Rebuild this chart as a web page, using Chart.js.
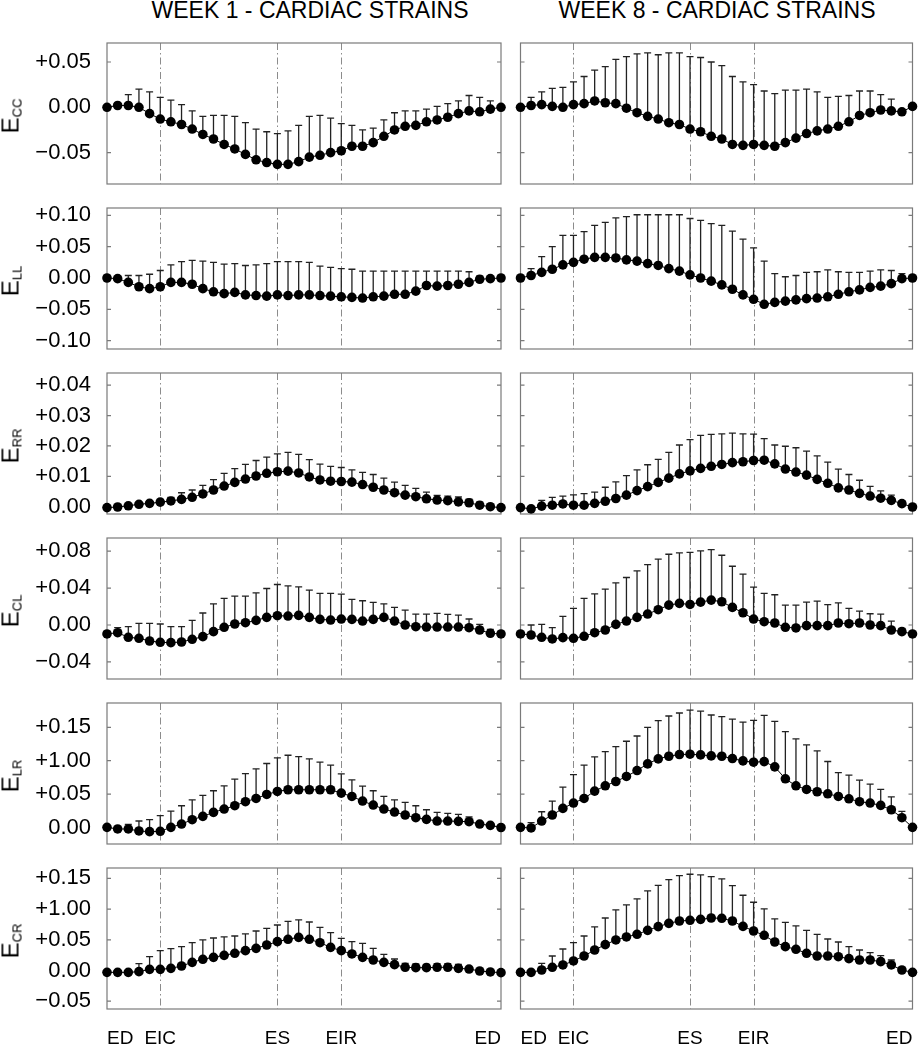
<!DOCTYPE html>
<html>
<head>
<meta charset="utf-8">
<script src="https://cdn.jsdelivr.net/npm/chart.js@4.4.0/dist/chart.umd.min.js"></script>
<style>
  body { margin: 0; background: #fff; }
  #wrap { position: relative; width: 918px; height: 1050px; overflow: hidden; font-family: "Liberation Sans", Arial, sans-serif; color: #000; }
  canvas { position: absolute; }
  .title { position: absolute; top: -1px; font-size: 23px; line-height: 1; white-space: nowrap; transform: translateX(-50%); }
  .ylab { position: absolute; width: 0; height: 0; }
  .ylab span { position: absolute; left: 0; top: 0; font-size: 24px; line-height: 1; white-space: nowrap; transform: translate(-50%, -50%) rotate(-90deg); }
  .ylab sub { font-size: 13px; vertical-align: -3px; line-height: 1; }
</style>
</head>
<body>
<div id="wrap">
  <div class="title" style="left:310px">WEEK 1 - CARDIAC STRAINS</div>
  <div class="title" style="left:717px">WEEK 8 - CARDIAC STRAINS</div>
</div>
<script>
// cardiac cycle frames and events
const frames = [0, 1, 2, 3, 4, 5, 6, 7, 8, 9, 10, 11, 12, 13, 14, 15, 16, 17, 18, 19,
  20, 21, 22, 23, 24, 25, 26, 27, 28, 29, 30, 31, 32, 33, 34, 35, 36, 37];
const eventFrames = [0, 5, 16, 22, 37];
const eventLabels = ["ED", "EIC", "ES", "EIR", "ED"];

// E_CC
const w1Ecc = [0.000, 0.002, 0.002, 0.000, -0.007, -0.013, -0.016, -0.019, -0.024, -0.030,
  -0.035, -0.041, -0.046, -0.052, -0.058, -0.061, -0.063, -0.063, -0.060, -0.055,
  -0.053, -0.050, -0.048, -0.043, -0.043, -0.039, -0.032, -0.025, -0.021, -0.020,
  -0.016, -0.014, -0.011, -0.007, -0.004, -0.005, -0.002, 0.000];
const w1EccTop = [0.000, 0.003, 0.014, 0.020, 0.017, 0.011, 0.008, 0.003, -0.004, -0.010,
  -0.009, -0.009, -0.010, -0.017, -0.024, -0.027, -0.029, -0.026, -0.020, -0.010,
  -0.009, -0.012, -0.018, -0.020, -0.025, -0.023, -0.014, -0.006, -0.004, -0.004,
  -0.002, 0.001, 0.004, 0.007, 0.013, 0.011, 0.007, 0.000];
const w8Ecc = [0.000, 0.002, 0.003, 0.001, 0.000, 0.003, 0.004, 0.007, 0.005, 0.004,
  -0.001, -0.006, -0.010, -0.013, -0.017, -0.019, -0.024, -0.027, -0.032, -0.035,
  -0.041, -0.042, -0.041, -0.042, -0.043, -0.039, -0.034, -0.029, -0.026, -0.024,
  -0.021, -0.016, -0.009, -0.006, -0.003, -0.004, -0.005, 0.001];
const w8EccTop = [0.000, 0.011, 0.017, 0.021, 0.022, 0.028, 0.034, 0.041, 0.045, 0.053,
  0.056, 0.059, 0.060, 0.058, 0.060, 0.060, 0.056, 0.055, 0.050, 0.046,
  0.034, 0.028, 0.025, 0.018, 0.015, 0.019, 0.019, 0.020, 0.017, 0.011,
  0.012, 0.013, 0.018, 0.018, 0.014, 0.009, -0.003, 0.001];

// E_LL
const w1Ell = [0.000, -0.001, -0.007, -0.014, -0.017, -0.014, -0.007, -0.007, -0.010, -0.017,
  -0.022, -0.025, -0.023, -0.027, -0.028, -0.029, -0.027, -0.028, -0.027, -0.027,
  -0.028, -0.029, -0.030, -0.031, -0.032, -0.030, -0.029, -0.026, -0.026, -0.021,
  -0.012, -0.013, -0.012, -0.010, -0.007, -0.002, -0.001, 0.000];
const w1EllTop = [0.000, 0.000, 0.004, 0.004, 0.006, 0.012, 0.021, 0.026, 0.028, 0.027,
  0.025, 0.022, 0.023, 0.020, 0.021, 0.023, 0.026, 0.026, 0.026, 0.025,
  0.019, 0.017, 0.015, 0.014, 0.011, 0.011, 0.011, 0.011, 0.011, 0.011,
  0.011, 0.011, 0.011, 0.011, 0.010, 0.003, -0.001, 0.000];
const w8Ell = [0.000, 0.004, 0.009, 0.014, 0.021, 0.025, 0.030, 0.033, 0.033, 0.032,
  0.029, 0.027, 0.023, 0.020, 0.015, 0.011, 0.005, 0.000, -0.005, -0.011,
  -0.018, -0.027, -0.034, -0.042, -0.039, -0.037, -0.035, -0.033, -0.032, -0.030,
  -0.026, -0.022, -0.019, -0.015, -0.013, -0.009, -0.001, 0.000];
const w8EllTop = [0.000, 0.015, 0.034, 0.050, 0.068, 0.068, 0.074, 0.084, 0.089, 0.096,
  0.098, 0.101, 0.101, 0.101, 0.101, 0.101, 0.095, 0.092, 0.087, 0.084,
  0.075, 0.062, 0.048, 0.027, 0.007, 0.002, 0.004, 0.009, 0.010, 0.013,
  0.010, 0.009, 0.009, 0.011, 0.013, 0.012, 0.007, 0.000];

// E_RR
const w1Err = [-0.0003, -0.0001, 0.0003, 0.0008, 0.0011, 0.0015, 0.0019, 0.0024, 0.0031, 0.0042,
  0.0055, 0.0068, 0.0080, 0.0091, 0.0101, 0.0110, 0.0115, 0.0117, 0.0111, 0.0098,
  0.0088, 0.0084, 0.0083, 0.0081, 0.0073, 0.0064, 0.0055, 0.0046, 0.0038, 0.0033,
  0.0026, 0.0022, 0.0020, 0.0016, 0.0013, 0.0005, 0.0000, -0.0003];
const w1ErrTop = [-0.0003, -0.0001, 0.0004, 0.0010, 0.0014, 0.0024, 0.0031, 0.0046, 0.0055, 0.0070,
  0.0089, 0.0110, 0.0125, 0.0139, 0.0152, 0.0163, 0.0174, 0.0179, 0.0172, 0.0155,
  0.0140, 0.0133, 0.0129, 0.0121, 0.0113, 0.0106, 0.0094, 0.0081, 0.0070, 0.0060,
  0.0048, 0.0037, 0.0035, 0.0032, 0.0025, 0.0015, 0.0000, -0.0003];
const w8Err = [-0.0003, -0.0007, 0.0002, 0.0005, 0.0009, 0.0005, 0.0005, 0.0011, 0.0018, 0.0027,
  0.0038, 0.0053, 0.0066, 0.0080, 0.0094, 0.0108, 0.0118, 0.0126, 0.0133, 0.0139,
  0.0145, 0.0148, 0.0152, 0.0153, 0.0141, 0.0124, 0.0114, 0.0104, 0.0090, 0.0077,
  0.0062, 0.0055, 0.0044, 0.0035, 0.0028, 0.0021, 0.0010, -0.0001];
const w8ErrTop = [-0.0003, 0.0000, 0.0021, 0.0031, 0.0035, 0.0039, 0.0043, 0.0048, 0.0064, 0.0082,
  0.0102, 0.0121, 0.0138, 0.0156, 0.0179, 0.0203, 0.0221, 0.0235, 0.0238, 0.0240,
  0.0242, 0.0240, 0.0239, 0.0224, 0.0203, 0.0199, 0.0194, 0.0183, 0.0167, 0.0147,
  0.0124, 0.0106, 0.0087, 0.0067, 0.0052, 0.0038, 0.0010, -0.0001];

// E_CL
const w1Ecl = [-0.0097, -0.0083, -0.0133, -0.0144, -0.0173, -0.0187, -0.0191, -0.0184, -0.0155, -0.0126,
  -0.0072, -0.0025, 0.0011, 0.0025, 0.0050, 0.0083, 0.0101, 0.0097, 0.0104, 0.0083,
  0.0061, 0.0054, 0.0065, 0.0061, 0.0043, 0.0061, 0.0083, 0.0043, 0.0000, -0.0018,
  -0.0022, -0.0022, -0.0022, -0.0022, -0.0029, -0.0054, -0.0090, -0.0097];
const w1EclTop = [-0.0072, -0.0029, -0.0018, 0.0018, 0.0018, 0.0011, -0.0018, -0.0018, 0.0050, 0.0130,
  0.0230, 0.0288, 0.0313, 0.0313, 0.0349, 0.0396, 0.0439, 0.0425, 0.0414, 0.0378,
  0.0342, 0.0342, 0.0335, 0.0277, 0.0263, 0.0245, 0.0230, 0.0191, 0.0162, 0.0119,
  0.0119, 0.0126, 0.0115, 0.0108, 0.0065, 0.0007, -0.0047, -0.0097];
const w8Ecl = [-0.0097, -0.0108, -0.0133, -0.0151, -0.0137, -0.0144, -0.0122, -0.0083, -0.0054, 0.0007,
  0.0043, 0.0083, 0.0119, 0.0166, 0.0216, 0.0234, 0.0223, 0.0248, 0.0270, 0.0252,
  0.0191, 0.0133, 0.0065, 0.0036, 0.0022, -0.0025, -0.0032, -0.0007, -0.0007, -0.0007,
  0.0022, 0.0014, 0.0022, 0.0000, -0.0007, -0.0054, -0.0072, -0.0097];
const w8EclTop = [-0.0097, 0.0000, 0.0007, -0.0029, 0.0094, 0.0180, 0.0288, 0.0338, 0.0389, 0.0457,
  0.0515, 0.0587, 0.0655, 0.0713, 0.0767, 0.0781, 0.0788, 0.0803, 0.0817, 0.0756,
  0.0637, 0.0551, 0.0410, 0.0342, 0.0328, 0.0216, 0.0216, 0.0248, 0.0259, 0.0220,
  0.0241, 0.0180, 0.0151, 0.0122, 0.0119, 0.0043, -0.0036, -0.0097];

// E_LR
const w1Elr = [0.0002, -0.0022, -0.0022, -0.0052, -0.0062, -0.0057, 0.0002, 0.0052, 0.0117, 0.0167,
  0.0226, 0.0276, 0.0326, 0.0386, 0.0435, 0.0495, 0.0540, 0.0565, 0.0565, 0.0565,
  0.0565, 0.0565, 0.0515, 0.0465, 0.0396, 0.0336, 0.0276, 0.0231, 0.0187, 0.0147,
  0.0122, 0.0097, 0.0097, 0.0092, 0.0087, 0.0052, 0.0032, 0.0000];
const w1ElrTop = [0.0002, -0.0022, 0.0047, 0.0097, 0.0117, 0.0177, 0.0246, 0.0326, 0.0415, 0.0480,
  0.0550, 0.0624, 0.0724, 0.0808, 0.0878, 0.0958, 0.1042, 0.1082, 0.1062, 0.1027,
  0.0978, 0.0933, 0.0803, 0.0714, 0.0619, 0.0550, 0.0465, 0.0415, 0.0376, 0.0326,
  0.0266, 0.0226, 0.0211, 0.0196, 0.0157, 0.0060, 0.0032, 0.0000];
const w8Elr = [0.0002, -0.0007, 0.0097, 0.0187, 0.0286, 0.0366, 0.0435, 0.0545, 0.0624, 0.0689,
  0.0764, 0.0853, 0.0953, 0.1027, 0.1067, 0.1092, 0.1097, 0.1087, 0.1072, 0.1067,
  0.1032, 0.0997, 0.0978, 0.0987, 0.0908, 0.0729, 0.0624, 0.0570, 0.0535, 0.0505,
  0.0465, 0.0430, 0.0386, 0.0366, 0.0331, 0.0266, 0.0147, 0.0002];
const w8ElrTop = [0.0002, 0.0072, 0.0236, 0.0396, 0.0604, 0.0793, 0.0933, 0.1057, 0.1137, 0.1211,
  0.1291, 0.1370, 0.1500, 0.1599, 0.1669, 0.1714, 0.1758, 0.1743, 0.1684, 0.1659,
  0.1624, 0.1579, 0.1604, 0.1679, 0.1589, 0.1435, 0.1326, 0.1236, 0.1147, 0.0988,
  0.0823, 0.0784, 0.0709, 0.0650, 0.0570, 0.0460, 0.0241, 0.0002];

// E_CR
const w1Ecr = [-0.0030, -0.0030, -0.0030, -0.0019, 0.0019, 0.0019, 0.0035, 0.0073, 0.0133, 0.0182,
  0.0214, 0.0247, 0.0280, 0.0323, 0.0361, 0.0415, 0.0470, 0.0508, 0.0540, 0.0508,
  0.0453, 0.0377, 0.0323, 0.0269, 0.0214, 0.0171, 0.0133, 0.0095, 0.0052, 0.0046,
  0.0046, 0.0052, 0.0052, 0.0035, 0.0024, -0.0008, -0.0024, -0.0035];
const w1EcrTop = [-0.0030, -0.0030, -0.0030, 0.0111, 0.0225, 0.0323, 0.0356, 0.0388, 0.0453, 0.0497,
  0.0529, 0.0546, 0.0562, 0.0595, 0.0643, 0.0687, 0.0741, 0.0801, 0.0823, 0.0790,
  0.0703, 0.0616, 0.0524, 0.0470, 0.0442, 0.0361, 0.0263, 0.0187, 0.0117, 0.0106,
  0.0100, 0.0111, 0.0111, 0.0100, 0.0050, -0.0008, -0.0024, -0.0035];
const w8Ecr = [-0.0030, -0.0030, 0.0008, 0.0052, 0.0090, 0.0155, 0.0236, 0.0334, 0.0421, 0.0497,
  0.0546, 0.0589, 0.0654, 0.0714, 0.0768, 0.0806, 0.0817, 0.0833, 0.0855, 0.0850,
  0.0806, 0.0719, 0.0643, 0.0573, 0.0464, 0.0388, 0.0345, 0.0280, 0.0236, 0.0236,
  0.0225, 0.0193, 0.0171, 0.0171, 0.0144, 0.0090, 0.0008, -0.0030];
const w8EcrTop = [-0.0030, -0.0030, 0.0117, 0.0236, 0.0350, 0.0453, 0.0562, 0.0709, 0.0855, 0.0986,
  0.1067, 0.1165, 0.1295, 0.1387, 0.1480, 0.1545, 0.1567, 0.1556, 0.1529, 0.1491,
  0.1382, 0.1225, 0.1111, 0.1002, 0.0839, 0.0785, 0.0725, 0.0654, 0.0589, 0.0513,
  0.0464, 0.0388, 0.0334, 0.0290, 0.0242, 0.0171, 0.0008, -0.0030];

// y axes (tick labels as printed in the figure)
const eccTicks = [-0.05, 0, 0.05];
const eccTickLabels = ["\u22120.05", "0.00", "+0.05"];
const ellTicks = [-0.10, -0.05, 0, 0.05, 0.10];
const ellTickLabels = ["\u22120.10", "\u22120.05", "0.00", "+0.05", "+0.10"];
const errTicks = [0, 0.01, 0.02, 0.03, 0.04];
const errTickLabels = ["0.00", "+0.01", "+0.02", "+0.03", "+0.04"];
const eclTicks = [-0.04, 0, 0.04, 0.08];
const eclTickLabels = ["\u22120.04", "0.00", "+0.04", "+0.08"];
const elrTicks = [0, 0.05, 0.10, 0.15];
const elrTickLabels = ["0.00", "+0.05", "+1.00", "+0.15"];
const ecrTicks = [-0.05, 0, 0.05, 0.10, 0.15];
const ecrTickLabels = ["\u22120.05", "0.00", "+0.05", "+1.00", "+0.15"];

const rows = [
  { sub: "CC", min: -0.0847, max: 0.071, ticks: eccTicks, labels: eccTickLabels, w1: w1Ecc, w1Top: w1EccTop, w8: w8Ecc, w8Top: w8EccTop },
  { sub: "LL", min: -0.1134, max: 0.1118, ticks: ellTicks, labels: ellTickLabels, w1: w1Ell, w1Top: w1EllTop, w8: w8Ell, w8Top: w8EllTop },
  { sub: "RR", min: -0.0024, max: 0.044, ticks: errTicks, labels: errTickLabels, w1: w1Err, w1Top: w1ErrTop, w8: w8Err, w8Top: w8ErrTop },
  { sub: "CL", min: -0.0585, max: 0.0943, ticks: eclTicks, labels: eclTickLabels, w1: w1Ecl, w1Top: w1EclTop, w8: w8Ecl, w8Top: w8EclTop },
  { sub: "LR", min: -0.0247, max: 0.1864, ticks: elrTicks, labels: elrTickLabels, w1: w1Elr, w1Top: w1ElrTop, w8: w8Elr, w8Top: w8ElrTop },
  { sub: "CR", min: -0.0627, max: 0.1669, ticks: ecrTicks, labels: ecrTickLabels, w1: w1Ecr, w1Top: w1EcrTop, w8: w8Ecr, w8Top: w8EcrTop },
];

Chart.defaults.font.family = '"Liberation Sans", Arial, sans-serif';
Chart.defaults.color = "#000";

// frame, inward ticks, event lines and upper error bars
const panelDecor = {
  id: "panelDecor",
  beforeDatasetsDraw(chart) {
    const { ctx, chartArea: a, scales: { x, y } } = chart;
    const ds = chart.data.datasets[0];
    ctx.save();
    ctx.strokeStyle = "#8c8c8c";
    ctx.lineWidth = 1;
    ctx.setLineDash([7, 3, 1.5, 3]);
    eventFrames.slice(1, -1).forEach((f) => {
      const px = Math.round(x.getPixelForValue(f)) + 0.5;
      ctx.beginPath();
      ctx.moveTo(px, a.top);
      ctx.lineTo(px, a.bottom);
      ctx.stroke();
    });
    ctx.setLineDash([]);
    ctx.strokeStyle = "#7a7a7a";
    ctx.lineWidth = 1.2;
    ctx.strokeRect(a.left, a.top, a.right - a.left, a.bottom - a.top);
    y.ticks.forEach((t) => {
      const py = y.getPixelForValue(t.value);
      ctx.beginPath();
      ctx.moveTo(a.left, py);
      ctx.lineTo(a.left + 4, py);
      ctx.moveTo(a.right, py);
      ctx.lineTo(a.right - 4, py);
      ctx.stroke();
    });
    ctx.strokeStyle = "#222";
    ctx.lineWidth = 1.3;
    ds.data.forEach((p, i) => {
      const top = ds.upper[i];
      if (top == null || top <= p.y) return;
      const px = x.getPixelForValue(p.x);
      const py = y.getPixelForValue(p.y);
      const pt = y.getPixelForValue(top);
      if (py - pt < 1) return;
      ctx.beginPath();
      ctx.moveTo(px, py);
      ctx.lineTo(px, pt);
      ctx.moveTo(px - 3.5, pt);
      ctx.lineTo(px + 3.5, pt);
      ctx.stroke();
    });
    ctx.restore();
  },
};

const wrap = document.getElementById("wrap");

function makePanel(col, rowIdx, means, tops) {
  const row = rows[rowIdx];
  const isLeft = col === 0;
  const isBottom = rowIdx === rows.length - 1;
  const plotTop = 43 + 165 * rowIdx;
  const plotH = 141;
  const canvasLeft = isLeft ? 0 : 505;
  const canvasW = isLeft ? 512 : 413;
  const yWidth = isLeft ? 107 : 15.5;
  const padRight = isLeft ? 11 : 5.5;
  const xH = isBottom ? 40 : 0;
  const padBottom = isBottom ? 0 : 10;
  const canvasH = 10 + plotH + xH + padBottom;

  const canvas = document.createElement("canvas");
  canvas.width = canvasW;
  canvas.height = canvasH;
  canvas.style.left = canvasLeft + "px";
  canvas.style.top = plotTop - 10 + "px";
  canvas.style.width = canvasW + "px";
  canvas.style.height = canvasH + "px";
  wrap.appendChild(canvas);

  new Chart(canvas, {
    type: "line",
    data: {
      datasets: [
        {
          data: frames.map((f, i) => ({ x: f, y: means[i] })),
          upper: tops,
          borderColor: "#000",
          borderWidth: 1,
          pointRadius: 4.8,
          pointHoverRadius: 4.8,
          pointBackgroundColor: "#000",
          pointBorderWidth: 0,
          tension: 0,
          clip: false,
        },
      ],
    },
    options: {
      responsive: false,
      animation: false,
      layout: { padding: { top: 10, bottom: padBottom, left: 0, right: padRight } },
      plugins: { legend: { display: false }, tooltip: { enabled: false } },
      scales: {
        x: {
          type: "linear",
          min: 0,
          max: 37,
          display: isBottom,
          afterBuildTicks: (s) => {
            s.ticks = eventFrames.map((v) => ({ value: v }));
          },
          afterFit: (s) => {
            s.height = xH;
            s.paddingLeft = 0;
            s.paddingRight = 0;
          },
          grid: { display: false, drawTicks: false },
          border: { display: false },
          ticks: {
            autoSkip: false,
            maxRotation: 0,
            align: "inner",
            padding: 18,
            font: { size: 19 },
            color: "#000",
            callback: (v, i) => eventLabels[i],
          },
        },
        y: {
          type: "linear",
          min: row.min,
          max: row.max,
          afterBuildTicks: (s) => {
            s.ticks = row.ticks.map((v) => ({ value: v }));
          },
          afterFit: (s) => {
            s.width = yWidth;
            s.paddingTop = 0;
            s.paddingBottom = 0;
          },
          grid: { display: false, drawTicks: false },
          border: { display: false },
          ticks: {
            display: isLeft,
            autoSkip: false,
            padding: 16,
            font: { size: 22 },
            color: "#000",
            callback: (v, i) => row.labels[i],
          },
        },
      },
    },
    plugins: [panelDecor],
  });

  if (isLeft) {
    const lab = document.createElement("div");
    lab.className = "ylab";
    lab.style.left = "11px";
    lab.style.top = plotTop + 73 + "px";
    lab.innerHTML = "<span>E<sub>" + row.sub + "</sub></span>";
    wrap.appendChild(lab);
  }
}

rows.forEach((row, r) => {
  makePanel(0, r, row.w1, row.w1Top);
  makePanel(1, r, row.w8, row.w8Top);
});
</script>
</body>
</html>
